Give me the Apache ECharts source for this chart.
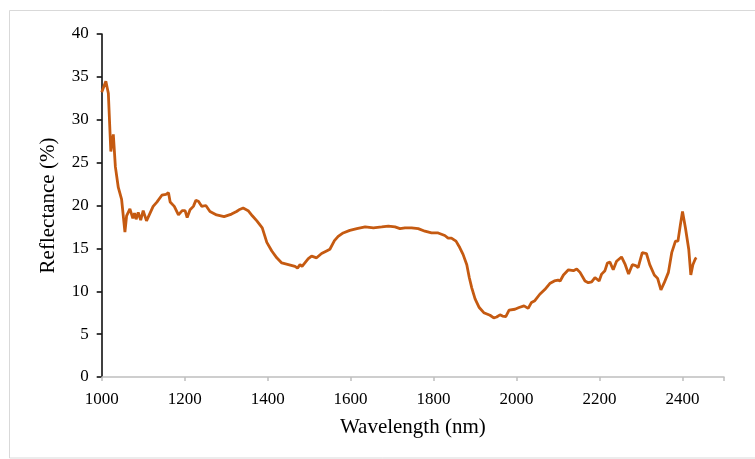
<!DOCTYPE html>
<html>
<head>
<meta charset="utf-8">
<script src="https://cdn.jsdelivr.net/npm/echarts@6/dist/echarts.min.js"></script>
<style>
html,body{margin:0;padding:0;background:#fff;}
#chart{width:755px;height:459px;}
</style>
</head>
<body>
<div id="chart"></div>
<script>
// Wavelength (nm)
const wavelength = [1000,1010,1016,1022,1028,1033,1040,1048,1056,1060,1068,1075,1079,1083,1088,1094,1100,1104,1108,1124,1133,1145,1155,1161,1165,1175,1185,1194,1201,1206,1213,1221,1227,1233,1241,1251,1261,1277,1295,1313,1325,1331,1341,1353,1363,1374,1387,1398,1410,1422,1434,1450,1466,1472,1478,1483,1498,1506,1518,1530,1542,1550,1561,1570,1582,1598,1615,1635,1655,1675,1691,1707,1719,1731,1747,1763,1779,1795,1811,1827,1835,1843,1854,1863,1871,1880,1886,1892,1900,1910,1921,1936,1945,1952,1960,1966,1974,1982,1996,2006,2018,2028,2036,2044,2056,2068,2080,2091,2100,2105,2113,2125,2137,2145,2153,2165,2173,2181,2189,2193,2199,2205,2213,2219,2225,2233,2241,2253,2262,2270,2279,2287,2293,2303,2313,2321,2332,2340,2348,2356,2366,2374,2383,2389,2395,2400,2407,2415,2420,2425,2431,2434];
// Reflectance (%)
const reflectance = [33.2,34.5,33.1,26.3,28.3,24.5,22.1,20.7,16.9,18.8,19.6,18.5,19.1,18.4,19.2,18.3,19.4,19.2,18.2,19.9,20.4,21.2,21.3,21.5,20.4,19.9,18.9,19.4,19.4,18.6,19.5,19.9,20.6,20.5,19.9,20.0,19.3,18.9,18.7,19.0,19.3,19.5,19.7,19.4,18.8,18.2,17.4,15.7,14.7,13.9,13.3,13.1,12.9,12.7,13.1,12.9,13.8,14.1,13.9,14.4,14.7,14.9,15.9,16.4,16.8,17.1,17.3,17.5,17.4,17.5,17.6,17.5,17.3,17.4,17.4,17.3,17.0,16.8,16.8,16.5,16.2,16.2,15.85,15.1,14.3,13.1,11.6,10.4,9.1,8.1,7.5,7.2,6.9,7.0,7.25,7.1,7.05,7.8,7.9,8.1,8.3,8.0,8.7,8.9,9.65,10.2,10.9,11.2,11.3,11.2,11.9,12.5,12.4,12.6,12.2,11.2,11.0,11.1,11.6,11.7,11.2,12.0,12.4,13.3,13.4,12.5,13.5,14.0,13.1,12.0,13.1,13.0,12.75,14.5,14.4,13.1,11.9,11.5,10.15,11.0,12.2,14.5,15.85,15.85,17.8,19.3,17.4,14.9,11.9,13.1,13.8,13.9];
const xTicks = [1000,1200,1400,1600,1800,2000,2200,2400];
const yTicks = [0,5,10,15,20,25,30,35,40];

const chart = echarts.init(document.getElementById('chart'), null, {renderer:'canvas'});
const font = '"Liberation Serif","Times New Roman",serif';
chart.setOption({
  animation:false,
  backgroundColor:'#ffffff',
  graphic:[{type:'rect',shape:{x:9.5,y:10.5,width:760,height:447.5},style:{fill:'none',stroke:'#d9d9d9',lineWidth:1},silent:true,z:-1}],
  grid:{left:101.7,right:31,top:34,bottom:82,containLabel:false},
  xAxis:{
    type:'value',min:1000,max:2500,interval:200,
    name:'Wavelength (nm)',nameLocation:'middle',nameGap:40,
    nameTextStyle:{fontFamily:font,fontSize:21,color:'#000'},
    axisLine:{show:true,lineStyle:{color:'#bfbfbf',width:1.5}},
    axisTick:{show:true,length:4,lineStyle:{color:'#bfbfbf',width:1.5}},
    axisLabel:{fontFamily:font,fontSize:17,color:'#000',margin:14,
      formatter:function(v){return xTicks.indexOf(v)>=0?String(v):'';}},
    splitLine:{show:false}
  },
  yAxis:{
    type:'value',min:0,max:40,interval:5,
    name:'Reflectance (%)',nameLocation:'middle',nameGap:43,
    nameTextStyle:{fontFamily:font,fontSize:21,color:'#000'},
    axisLine:{show:true,lineStyle:{color:'#000',width:1.5}},
    axisTick:{show:true,length:5,lineStyle:{color:'#000',width:1.5}},
    axisLabel:{fontFamily:font,fontSize:17,color:'#000',margin:13,
      formatter:function(v){return yTicks.indexOf(v)>=0?String(v):'';}},
    splitLine:{show:false}
  },
  series:[{
    type:'line',
    data:wavelength.map((w,i)=>[w,reflectance[i]]),
    showSymbol:false,symbol:'none',smooth:false,
    lineStyle:{color:'#C55A11',width:2.8},
    itemStyle:{color:'#C55A11'}
  }]
});
</script>
</body>
</html>
